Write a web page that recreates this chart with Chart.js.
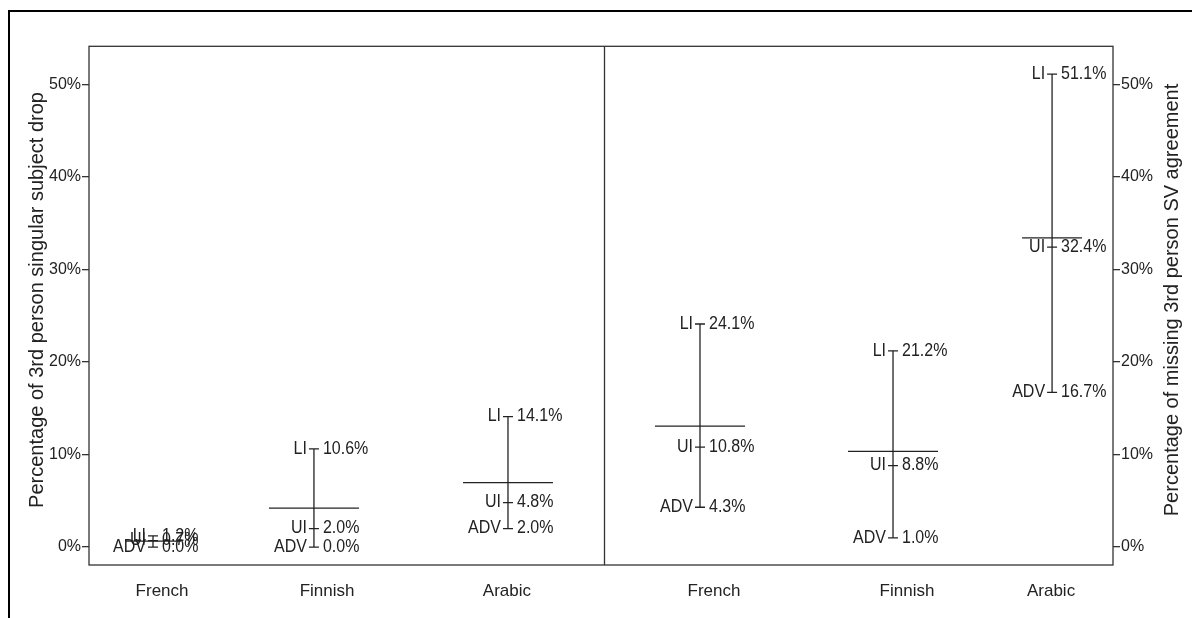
<!DOCTYPE html>
<html>
<head>
<meta charset="utf-8">
<script src="https://cdn.jsdelivr.net/npm/chart.js@4.4.1/dist/chart.umd.min.js"></script>
<style>
  html, body { margin: 0; padding: 0; background: #fff; overflow: hidden; }
  #wrap { position: relative; width: 1192px; height: 618px; overflow: hidden; }
  #frame { position: absolute; left: 8px; top: 10px; width: 1300px; height: 700px; border-left: 2px solid #000; border-top: 2px solid #000; }
  canvas { position: absolute; left: 0; top: 0; }
</style>
</head>
<body>
<div id="wrap"><div id="frame"></div><canvas id="chart" width="1192" height="618"></canvas></div>
<script>
const groups = ['French', 'Finnish', 'Arabic', 'French', 'Finnish', 'Arabic']
const liValues = [1.2, 10.6, 14.1, 24.1, 21.2, 51.1]
const uiValues = [0.7, 2.0, 4.8, 10.8, 8.8, 32.4]
const advValues = [0.0, 0.0, 2.0, 4.3, 1.0, 16.7]
const yTicks = [0, 10, 20, 30, 40, 50]

// layout only: where each group sits on the 0..6 x axis, and mean bar half widths (px)
const markSlots = [0.375, 1.318, 2.455, 3.58, 4.711, 5.643]
const labelSlots = [0.428, 1.395, 2.449, 3.662, 4.793, 5.637]
const meanHalfWidth = [28, 45, 45, 45, 45, 30]
const panelSplit = 3.02

const ink = '#222'
const font = 'Liberation Sans, Arial, sans-serif'

const means = groups.map((g, i) => (liValues[i] + uiValues[i] + advValues[i]) / 3)

const rangeData = []
groups.forEach((g, i) => {
  rangeData.push({ x: markSlots[i], y: advValues[i] })
  rangeData.push({ x: markSlots[i], y: liValues[i] })
  rangeData.push({ x: markSlots[i], y: null })
})

const tickData = []
groups.forEach((g, i) => {
  [liValues, uiValues, advValues].forEach((arr) => {
    tickData.push({ x: markSlots[i], y: arr[i] })
  })
})

const decor = {
  id: 'decor',
  afterDatasetsDraw(chart) {
    const { ctx, chartArea, scales } = chart
    const xs = scales.x
    const ys = scales.y
    ctx.save()
    ctx.strokeStyle = '#333'
    ctx.lineWidth = 1.3
    ctx.strokeRect(chartArea.left, chartArea.top, chartArea.right - chartArea.left, chartArea.bottom - chartArea.top)
    const sx = Math.round(xs.getPixelForValue(panelSplit)) + 0.5
    ctx.beginPath()
    ctx.moveTo(sx, chartArea.top)
    ctx.lineTo(sx, chartArea.bottom)
    ctx.stroke()

    ctx.fillStyle = ink
    ctx.font = `16px ${font}`
    ctx.textBaseline = 'middle'
    groups.forEach((g, i) => {
      const px = xs.getPixelForValue(markSlots[i])
      const rows = [['LI', liValues[i]], ['UI', uiValues[i]], ['ADV', advValues[i]]]
      rows.forEach(([name, v]) => {
        const py = ys.getPixelForValue(v)
        ctx.save()
        ctx.translate(px, py)
        ctx.scale(1, 1.1)
        ctx.textAlign = 'right'
        ctx.fillText(name, -7, 0)
        ctx.textAlign = 'left'
        ctx.fillText(v.toFixed(1) + '%', 9, 0)
        ctx.restore()
      })
    })

    ctx.font = `20px ${font}`
    ctx.textAlign = 'center'
    const cy = 300
    ;[[37, 'Percentage of 3rd person singular subject drop'], [1172, 'Percentage of missing 3rd person SV agreement']].forEach(([tx, text]) => {
      ctx.save()
      ctx.translate(tx, cy)
      ctx.rotate(-Math.PI / 2)
      ctx.fillText(text, 0, 0)
      ctx.restore()
    })
    ctx.restore()
  },
}

const yAxis = (position, width) => ({
  type: 'linear',
  position,
  min: -1.94,
  max: 54.1,
  afterBuildTicks: (s) => { s.ticks = yTicks.map(v => ({ value: v })) },
  afterFit: (s) => { s.width = width },
  ticks: { callback: v => v + '%', padding: 1, color: ink, font: { family: font, size: 16 } },
  grid: { drawOnChartArea: false, tickLength: 7, color: '#333', lineWidth: 1.3 },
  border: { display: false },
})

new Chart(document.getElementById('chart'), {
  type: 'scatter',
  data: {
    datasets: [
      {
        type: 'line',
        data: rangeData,
        showLine: true,
        spanGaps: false,
        borderColor: ink,
        borderWidth: 1.3,
        pointRadius: 0,
      },
      {
        data: tickData,
        pointStyle: 'line',
        pointRadius: 5,
        borderColor: ink,
        borderWidth: 1.3,
      },
      {
        data: groups.map((g, i) => ({ x: markSlots[i], y: means[i] })),
        pointStyle: 'line',
        pointRadius: meanHalfWidth,
        borderColor: ink,
        borderWidth: 1.3,
      },
    ],
  },
  options: {
    responsive: false,
    animation: false,
    devicePixelRatio: 1,
    layout: { padding: { top: 45, left: 0, right: 0, bottom: 0 } },
    plugins: { legend: { display: false }, tooltip: { enabled: false } },
    scales: {
      x: {
        type: 'linear',
        min: 0,
        max: 6,
        afterBuildTicks: (s) => { s.ticks = labelSlots.map(v => ({ value: v })) },
        afterFit: (s) => { s.height = 53 },
        ticks: {
          callback: (v, i) => groups[i],
          autoSkip: false,
          maxRotation: 0,
          padding: 8,
          color: ink,
          font: { family: font, size: 17 },
        },
        grid: { display: false },
        border: { display: false },
      },
      y: yAxis('left', 89),
      y2: yAxis('right', 79),
    },
  },
  plugins: [decor],
})
</script>
</body>
</html>
